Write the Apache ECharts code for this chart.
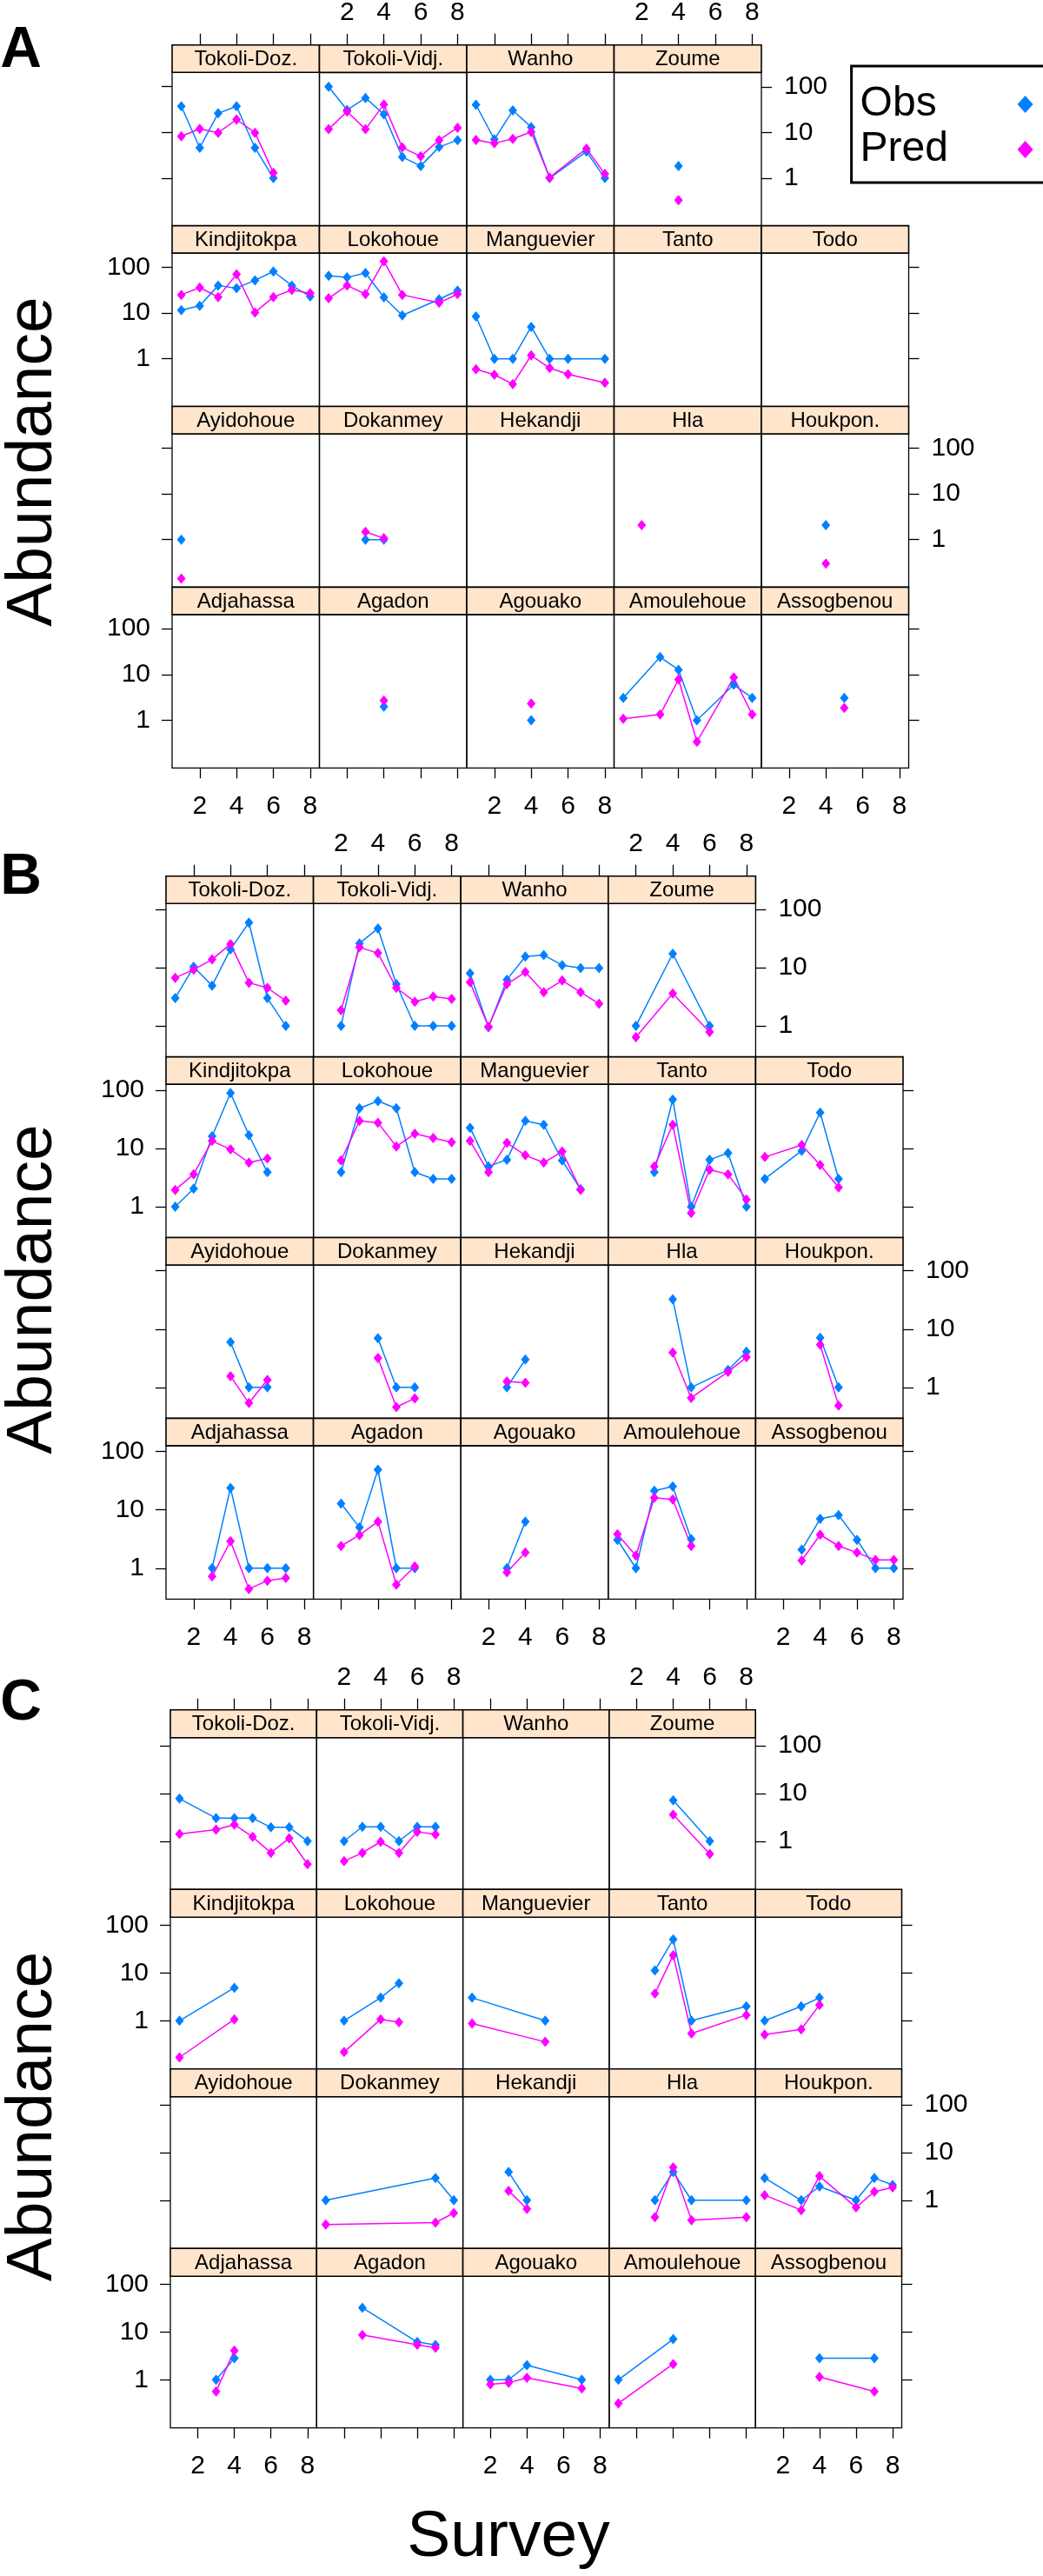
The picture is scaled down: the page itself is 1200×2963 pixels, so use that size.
<!DOCTYPE html>
<html><head><meta charset="utf-8">
<script src="https://cdn.jsdelivr.net/npm/echarts@6/dist/echarts.min.js"></script>
<style>html,body{margin:0;padding:0;background:#fff}#c{width:1200px;height:2963px}</style>
</head><body><div id="c"></div>
<script>
// ---------------- DATA ----------------
const sites = ['Tokoli-Doz.','Tokoli-Vidj.','Wanho','Zoume',
  'Kindjitokpa','Lokohoue','Manguevier','Tanto','Todo',
  'Ayidohoue','Dokanmey','Hekandji','Hla','Houkpon.',
  'Adjahassa','Agadon','Agouako','Amoulehoue','Assogbenou'];
const sectionLabels = ['A','B','C'];
const seriesNames = ['Obs','Pred'];
const surveyTicks = [2,4,6,8];
const abundanceTicks = [1,10,100];
const xTitle = 'Survey';
const yTitle = 'Abundance';

// [survey, abundance] pairs per site (same order as sites)
const A_obs = [
  [[1,37],[2,4.6],[3,26],[4,37],[5,4.6],[6,1]],
  [[1,100],[2,31],[3,57],[4,25],[5,2.9],[6,1.85],[7,4.8],[8,6.8]],
  [[1,40],[2,7],[3,30],[4,13],[5,1],[7,3.8],[8,1]],
  [[4,1.85]],
  [[1,11.6],[2,14.4],[3,40],[4,35],[5,52],[6,81],[7,40],[8,23]],
  [[1,65],[2,60],[3,75],[4,22],[5,8.9],[7,20],[8,31]],
  [[1,8.4],[2,1],[3,1],[4,5],[5,1],[6,1],[8,1]],
  [],
  [],
  [[1,1]],
  [[3,1],[4,1]],
  [],
  [],
  [[4,2.06]],
  [],
  [[4,2.0]],
  [[4,1]],
  [[1,3.1],[3,24],[4,12.7],[5,1],[7,6],[8,3.1]],
  [[5,3.1]]
];
const A_pred = [
  [[1,8.2],[2,11.9],[3,9.8],[4,19],[5,9.8],[6,1.3]],
  [[1,11.8],[2,28.7],[3,11.8],[4,41],[5,4.7],[6,3.0],[7,6.8],[8,12.7]],
  [[1,6.8],[2,5.8],[3,7.2],[4,10.2],[5,1.03],[7,4.4],[8,1.23]],
  [[4,0.33]],
  [[1,25],[2,36],[3,22.4],[4,70],[5,10.3],[6,22.4],[7,32],[8,27]],
  [[1,21],[2,40],[3,26],[4,136],[5,25],[7,16.7],[8,26]],
  [[1,0.59],[2,0.45],[3,0.28],[4,1.19],[5,0.63],[6,0.46],[8,0.3]],
  [],
  [],
  [[1,0.14]],
  [[3,1.48],[4,1.07]],
  [],
  [[2,2.06]],
  [[4,0.30]],
  [],
  [[4,2.7]],
  [[4,2.33]],
  [[1,1.08],[3,1.34],[4,7.8],[5,0.34],[7,8.6],[8,1.34]],
  [[5,1.87]]
];
const B_obs = [
  [[1,3.0],[2,10.3],[3,4.9],[4,20.6],[5,59],[6,3.0],[7,1]],
  [[2,1],[3,26],[4,47],[5,5.2],[6,1],[7,1],[8,1]],
  [[1,8],[2,0.95],[3,6.2],[4,15.5],[5,16.4],[6,11],[7,9.8],[8,9.8]],
  [[2,1],[4,17.3],[6,1]],
  [[1,1],[2,2.03],[3,16.1],[4,89],[5,16.8],[6,3.9]],
  [[2,3.9],[3,48.7],[4,64.6],[5,48.7],[6,3.9],[7,3.0],[8,3.0]],
  [[1,22.6],[2,4.9],[3,6.4],[4,29.7],[5,25.4],[6,6.2],[7,2.0]],
  [[3,3.9],[4,68.7],[5,1],[6,6.4],[7,8.3],[8,1]],
  [[1,3.0],[3,9.1],[4,41],[5,3.0]],
  [[4,6.0],[5,1],[6,1]],
  [[4,7.0],[5,1],[6,1]],
  [[3,1],[4,3.0]],
  [[4,32.5],[5,1],[7,2.0],[8,4.1]],
  [[4,7.1],[5,1]],
  [[3,1],[4,23.8],[5,1],[6,1],[7,1]],
  [[2,12.8],[3,5.0],[4,48.8],[5,1],[6,1]],
  [[3,1],[4,6.3]],
  [[1,3.05],[2,1],[3,21.2],[4,25.2],[5,3.16]],
  [[3,2.07],[4,7.0],[5,8.1],[6,3.06],[7,1],[8,1]]
];
const B_pred = [
  [[1,6.7],[2,9.2],[3,13.8],[4,25.3],[5,5.5],[6,4.5],[7,2.7]],
  [[2,1.86],[3,22.3],[4,17.7],[5,4.5],[6,2.6],[7,3.2],[8,2.9]],
  [[1,5.6],[2,0.97],[3,5.2],[4,8.4],[5,3.8],[6,6.0],[7,3.8],[8,2.4]],
  [[2,0.64],[4,3.6],[6,0.79]],
  [[1,1.94],[2,3.6],[3,13.4],[4,9.6],[5,5.7],[6,6.7]],
  [[2,6.2],[3,29.7],[4,27.5],[5,10.8],[6,17.8],[7,15],[8,12.8]],
  [[1,13.4],[2,3.9],[3,12.4],[4,7.6],[5,5.7],[6,8.8],[7,1.94]],
  [[3,4.9],[4,25.4],[5,0.78],[6,4.3],[7,3.6],[8,1.33]],
  [[1,7.1],[3,11.4],[4,5.2],[5,2.15]],
  [[4,1.56],[5,0.54],[6,1.34]],
  [[4,3.2],[5,0.46],[6,0.65]],
  [[3,1.27],[4,1.2]],
  [[4,3.96],[5,0.66],[7,1.85],[8,3.3]],
  [[4,5.4],[5,0.49]],
  [[3,0.72],[4,2.9],[5,0.44],[6,0.61],[7,0.68]],
  [[2,2.4],[3,3.7],[4,6.3],[5,0.52],[6,1.07]],
  [[3,0.85],[4,1.85]],
  [[1,3.8],[2,1.65],[3,16.1],[4,15.1],[5,2.4]],
  [[3,1.35],[4,3.75],[5,2.4],[6,1.85],[7,1.38],[8,1.39]]
];
const C_obs = [
  [[1,7.8],[3,3.03],[4,3.03],[5,3.03],[6,1.95],[7,1.95],[8,1]],
  [[2,1],[3,2],[4,2],[5,1],[6,2],[7,2]],
  [],
  [[4,7.2],[6,1]],
  [[1,1],[4,4.9]],
  [[2,1],[4,3.03],[5,6.1]],
  [[1,3.03],[5,1]],
  [[3,11.3],[4,50.6],[5,1],[8,2]],
  [[1,1],[3,2],[4,3.03]],
  [],
  [[1,1],[7,2.93],[8,1]],
  [[3,3.9],[4,1]],
  [[3,1],[4,3.9],[5,1],[8,1]],
  [[1,2.93],[3,1],[4,1.94],[6,1],[7,2.93],[8,2.08]],
  [[3,1],[4,2.84]],
  [[3,32.3],[6,6.2],[7,5.35]],
  [[2,1],[3,1],[4,2.02],[7,1]],
  [[1,1],[4,7.1]],
  [[4,2.84],[7,2.84]]
];
const C_pred = [
  [[1,1.41],[3,1.74],[4,2.23],[5,1.23],[6,0.57],[7,1.15],[8,0.33]],
  [[2,0.38],[3,0.57],[4,0.97],[5,0.57],[6,1.58],[7,1.38]],
  [],
  [[4,3.6],[6,0.54]],
  [[1,0.17],[4,1.07]],
  [[2,0.22],[4,1.07],[5,0.93]],
  [[1,0.87],[5,0.36]],
  [[3,3.7],[4,23.6],[5,0.54],[8,1.32]],
  [[1,0.51],[3,0.66],[4,2.14]],
  [],
  [[1,0.31],[7,0.34],[8,0.54]],
  [[3,1.58],[4,0.66]],
  [[3,0.44],[4,4.9],[5,0.38],[8,0.44]],
  [[1,1.28],[3,0.62],[4,3.2],[6,0.71],[7,1.51],[8,1.86]],
  [[3,0.57],[4,4.1]],
  [[3,8.7],[6,5.4],[7,4.7]],
  [[2,0.8],[3,0.86],[4,1.1],[7,0.66]],
  [[1,0.32],[4,2.14]],
  [[4,1.15],[7,0.57]]
];

// ---------------- LAYOUT / STYLE ----------------
const FONT = '"Liberation Sans", Arial, Helvetica, sans-serif';
const COLORS = {Obs:'#0080FF', Pred:'#FF00FF'};
const STRIP_BG = '#FFE5CC';
const sectionLayout = [
  {left:198.0, colW:169.5, top:51.7,   pitch:207.9, strip:31.5, logMin:-1.04, logMax:2.31, letterY:58.5, titleY:531},
  {left:191.0, colW:169.6, top:1007.7, pitch:207.9, strip:31.5, logMin:-0.53, logMax:2.10, letterY:1010, titleY:1483},
  {left:196.0, colW:168.3, top:1966.7, pitch:206.5, strip:32.0, logMin:-1.01, logMax:2.17, letterY:1960, titleY:2434.5}
];
const sectionData = [[A_obs,A_pred],[B_obs,B_pred],[C_obs,C_pred]];

function rc(i){ if(i<4) return [0,i]; const k=i-4; return [1+Math.floor(k/5), k%5]; }

const grids=[], xAxes=[], yAxes=[], series=[], graphics=[];
const tickStyle = {color:'#000', width:1.3};
const labelStyle = {fontSize:30, color:'#000', fontFamily:FONT};

sectionLayout.forEach((L, s) => {
  const yMin = Math.pow(10, L.logMin), yMax = Math.pow(10, L.logMax);
  sites.forEach((name, i) => {
    const [r, c] = rc(i);
    const lastCol = (r === 0) ? 3 : 4;
    const x0 = L.left + c*L.colW;
    const stripTop = L.top + r*L.pitch;
    const g = grids.length;
    grids.push({left:x0, top:stripTop+L.strip, width:L.colW, height:L.pitch-L.strip,
      show:true, borderColor:'#000', borderWidth:1.3, backgroundColor:'transparent'});
    // strip
    graphics.push({type:'rect', shape:{x:x0, y:stripTop, width:L.colW, height:L.strip},
      style:{fill:STRIP_BG, stroke:'#000', lineWidth:1.6}, z:10});
    graphics.push({type:'text', x:x0+L.colW/2, y:stripTop+L.strip/2+1, z:11,
      style:{text:name, fontSize:24, fontFamily:FONT, fill:'#000', align:'center', verticalAlign:'middle'}});
    // bottom x axis
    const xi = xAxes.length;
    xAxes.push({gridIndex:g, type:'value', min:0.5, max:8.5, position:'bottom',
      axisLine:{show:false}, splitLine:{show:false},
      axisTick:{show:r===3, customValues:surveyTicks, length:12, lineStyle:tickStyle},
      axisLabel:Object.assign({show:r===3 && c%2===0, customValues:surveyTicks, margin:29}, labelStyle)});
    if (r === 0) {
      xAxes.push({gridIndex:g, type:'value', min:0.5, max:8.5, position:'top', offset:L.strip,
        axisLine:{show:false}, splitLine:{show:false},
        axisTick:{show:true, customValues:surveyTicks, length:13, lineStyle:tickStyle},
        axisLabel:Object.assign({show:c%2===1, customValues:surveyTicks, margin:22}, labelStyle)});
    }
    const yi = yAxes.length;
    yAxes.push({gridIndex:g, type:'log', logBase:10, min:yMin, max:yMax, position:'left',
      axisLine:{show:false}, splitLine:{show:false}, minorTick:{show:false},
      axisTick:{show:c===0, customValues:abundanceTicks, length:12, lineStyle:tickStyle},
      axisLabel:Object.assign({show:c===0 && (r===1||r===3), customValues:abundanceTicks, margin:25}, labelStyle)});
    if (c === lastCol) {
      yAxes.push({gridIndex:g, type:'log', logBase:10, min:yMin, max:yMax, position:'right',
        axisLine:{show:false}, splitLine:{show:false},
        axisTick:{show:true, customValues:abundanceTicks, length:12, lineStyle:tickStyle},
        axisLabel:Object.assign({show:(r===0||r===2), customValues:abundanceTicks, margin:26}, labelStyle)});
    }
    sectionData[s].forEach((arr, k) => {
      const nm = seriesNames[k];
      series.push({type:'line', name:nm, xAxisIndex:xi, yAxisIndex:yi, data:arr[i],
        symbol:'diamond', symbolSize:[10,12], showSymbol:true, showAllSymbol:true,
        lineStyle:{color:COLORS[nm], width:1.5}, itemStyle:{color:COLORS[nm]},
        emphasis:{disabled:true}, animation:false, z:5});
    });
  });
  graphics.push({type:'text', x:24, y:L.letterY, z:12,
    style:{text:sectionLabels[s], fontSize:66, fontWeight:'bold', fontFamily:FONT, fill:'#000', align:'center', verticalAlign:'middle'}});
  graphics.push({type:'text', x:38, y:L.titleY, rotation:Math.PI/2, z:12,
    style:{text:yTitle, fontSize:75, fontFamily:FONT, fill:'#000', align:'center', verticalAlign:'middle'}});
});
graphics.push({type:'text', x:585, y:2919, z:12,
  style:{text:xTitle, fontSize:75, fontFamily:FONT, fill:'#000', align:'center', verticalAlign:'middle'}});

const chart = echarts.init(document.getElementById('c'), null, {renderer:'canvas'});
chart.setOption({
  animation:false,
  backgroundColor:'#fff',
  grid:grids, xAxis:xAxes, yAxis:yAxes, series:series,
  legend:{show:true, data:seriesNames, orient:'vertical', left:979.6, top:76,
    align:'right', icon:'diamond', itemWidth:18, itemHeight:20, itemGap:4,
    borderColor:'#000', borderWidth:3, borderRadius:0, padding:[20,18,14,10],
    selectedMode:false,
    formatter: function(name){ return '{t|' + name + '}'; },
    textStyle:{fontSize:48, color:'#000', fontFamily:FONT, lineHeight:48,
      rich:{t:{width:176, fontSize:48, lineHeight:48, color:'#000', fontFamily:FONT, align:'left'}}}},
  graphic:graphics
});
</script></body></html>
